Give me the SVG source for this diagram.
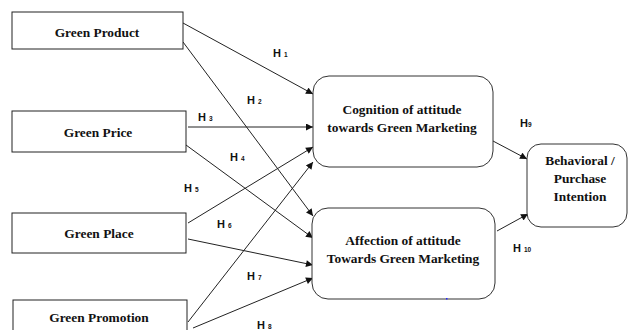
<svg xmlns="http://www.w3.org/2000/svg" width="628" height="330" viewBox="0 0 628 330">
<style>
.box{fill:#fff;stroke:#222;stroke-width:1}
.rbox{fill:#fff;stroke:#333;stroke-width:1}
.t{font-family:"Liberation Serif","Times New Roman",serif;font-weight:bold;font-size:13.4px;fill:#111;text-anchor:middle}
.h{font-family:"Liberation Sans",Arial,sans-serif;font-weight:bold;font-size:11px;fill:#111}
.s{font-size:6.5px}
.c{stroke:#222;stroke-width:1;fill:none;marker-end:url(#a)}
</style>
<defs>
<marker id="a" viewBox="0 0 10 10" refX="10" refY="5" markerWidth="8" markerHeight="7" markerUnits="userSpaceOnUse" orient="auto">
<path d="M0,0 L10,5 L0,10 z" fill="#111"/>
</marker>
</defs>
<rect width="628" height="330" fill="#fff"/>
<g id="connectors">
<line class="c" x1="183" y1="23" x2="313" y2="94"/>
<line class="c" x1="183" y1="42" x2="313" y2="216"/>
<line class="c" x1="188" y1="127" x2="313" y2="127"/>
<line class="c" x1="186" y1="145" x2="313" y2="238"/>
<line class="c" x1="188" y1="223" x2="313" y2="147"/>
<line class="c" x1="188" y1="239" x2="313" y2="265"/>
<line class="c" x1="188" y1="322" x2="313" y2="162"/>
<line class="c" x1="193" y1="328" x2="313" y2="278"/>
<line class="c" x1="493" y1="141" x2="527" y2="159"/>
<line class="c" x1="497" y1="231" x2="528" y2="214"/>
</g>
<g id="green-product"><rect class="box" x="12" y="12" width="171" height="37"/><text class="t" x="97" y="37">Green Product</text></g>
<g id="green-price"><rect class="box" x="12" y="111" width="174" height="41"/><text class="t" x="98" y="137">Green Price</text></g>
<g id="green-place"><rect class="box" x="12" y="213" width="174" height="40"/><text class="t" x="99" y="238">Green Place</text></g>
<g id="green-promotion"><rect class="box" x="13" y="300" width="174" height="45"/><text class="t" x="99" y="322">Green Promotion</text></g>
<g id="cognition"><rect class="rbox" x="313" y="76" width="180" height="91" rx="16"/><text class="t" x="402" y="114">Cognition of attitude</text><text class="t" x="402" y="132">towards Green Marketing</text></g>
<g id="affection"><rect class="rbox" x="312" y="208" width="183" height="91" rx="16"/><text class="t" x="403" y="245">Affection of attitude</text><text class="t" x="403" y="263">Towards Green Marketing</text></g>
<g id="behavioral"><rect class="rbox" x="527" y="144" width="100" height="83" rx="14"/><text class="t" x="580" y="165">Behavioral /</text><text class="t" x="580" y="183">Purchase</text><text class="t" x="580" y="201">Intention</text></g>
<g id="labels">
<text class="h" x="273" y="57">H <tspan class="s">1</tspan></text>
<text class="h" x="247" y="104">H <tspan class="s">2</tspan></text>
<text class="h" x="198" y="121">H <tspan class="s">3</tspan></text>
<text class="h" x="230" y="161">H <tspan class="s">4</tspan></text>
<text class="h" x="184" y="192">H <tspan class="s">5</tspan></text>
<text class="h" x="217" y="228">H <tspan class="s">6</tspan></text>
<text class="h" x="247" y="280">H <tspan class="s">7</tspan></text>
<text class="h" x="257" y="329">H <tspan class="s">8</tspan></text>
<text class="h" x="520" y="127">H<tspan class="s">9</tspan></text>
<text class="h" x="513" y="252">H <tspan class="s">10</tspan></text>
</g>
<rect x="446" y="298" width="1.5" height="1.5" fill="#22f"/>
</svg>
